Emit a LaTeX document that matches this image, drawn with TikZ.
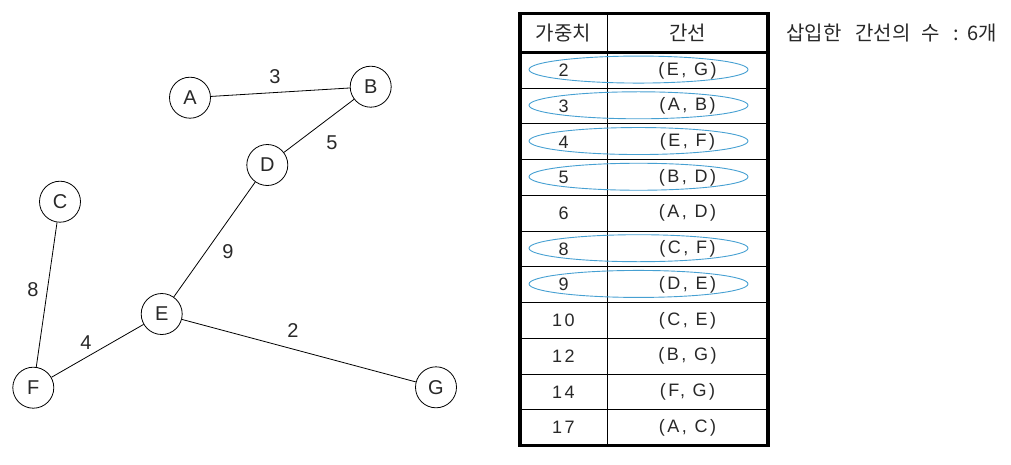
\documentclass[tikz,border=0pt]{standalone}
\usepackage{fontspec}
\setmainfont{Liberation Sans}
\newfontfamily\kr{Noto Sans CJK KR}
\newfontfamily\tabfont[LetterSpace=14]{Liberation Sans}
\usetikzlibrary{shapes.geometric}
\definecolor{hlblue}{RGB}{70,160,210}
\definecolor{ink}{RGB}{40,40,40}
\begin{document}
\begin{tikzpicture}[x=1pt,y=-1pt,
  vertex/.style={circle, draw=black, line width=0.8pt, minimum size=41pt, inner sep=0pt,
    text=ink, font=\fontsize{20}{20}\selectfont},
  edge/.style={draw=black, line width=0.8pt},
  wlabel/.style={inner sep=0pt, text=ink, font=\fontsize{20}{20}\selectfont},
  cell/.style={inner sep=0pt, text=ink, font=\tabfont\fontsize{18}{18}\selectfont},
  head/.style={inner sep=0pt, text=ink, font=\kr\fontsize{20}{20}\selectfont},
  thick border/.style={line width=3.5pt, draw=black},
  thin rule/.style={line width=1pt, draw=black},
  hl/.style={ellipse, draw=hlblue, line width=0.9pt, minimum width=219pt, minimum height=27pt, inner sep=0pt}
]
\useasboundingbox (0,0) rectangle (1011,464);

% graph
\node[vertex] (A) at (190,97.7) {A};
\node[vertex] (B) at (370.7,86.7) {B};
\node[vertex] (D) at (267.3,165) {D};
\node[vertex] (C) at (60,201.7) {C};
\node[vertex] (E) at (161.7,314) {E};
\node[vertex] (F) at (33.3,387.7) {F};
\node[vertex] (G) at (436,387.3) {G};

\draw[edge] (A) -- (B);
\draw[edge] (B) -- (D);
\draw[edge] (D) -- (E);
\draw[edge] (C) -- (F);
\draw[edge] (F) -- (E);
\draw[edge] (E) -- (G);

\node[wlabel] (l3) at (275,77) {3};
\node[wlabel] (l5) at (332,143) {5};
\node[wlabel] (l9) at (228,252) {9};
\node[wlabel] (l8) at (33,290) {8};
\node[wlabel] (l4) at (86,343) {4};
\node[wlabel] (l2) at (293,331) {2};

% table
\def\rh{35.727}
\foreach \k in {1,...,10} {
  \draw[thin rule] (520,{52.5+\k*\rh}) -- (768,{52.5+\k*\rh});
}
\draw[thin rule] (607.5,13.5) -- (607.5,445.5);
\draw[thick border] (520,52.5) -- (768,52.5);
\draw[thick border] (520,13.5) rectangle (768,445.5);

\node[head] (hw) at (563.5,33) {가중치};
\node[head] (he) at (687.5,33) {간선};

\foreach \k/\w/\e in {1/2/{(E, G)},2/3/{(A, B)},3/4/{(E, F)},4/5/{(B, D)},5/6/{(A, D)},6/8/{(C, F)},7/9/{(D, E)},8/10/{(C, E)},9/12/{(B, G)},10/14/{(F, G)},11/17/{(A, C)}} {
  \node[cell] (w\k) at (563.5,{52.5+(\k-0.5)*\rh}) {\w};
  \node[cell] (e\k) at (687.5,{52.5+(\k-0.5)*\rh}) {\e};
}

\foreach \k in {1,2,3,4,6,7} {
  \node[hl] (o\k) at (638.5,{52.5+(\k-0.5)*\rh-0.8}) {};
}

\node[head, anchor=west] (count) at (786,33) {삽입한\hspace{14pt}간선의\hspace{11pt}수\hspace{13pt}:\hspace{9pt}6개};
\end{tikzpicture}
\end{document}
